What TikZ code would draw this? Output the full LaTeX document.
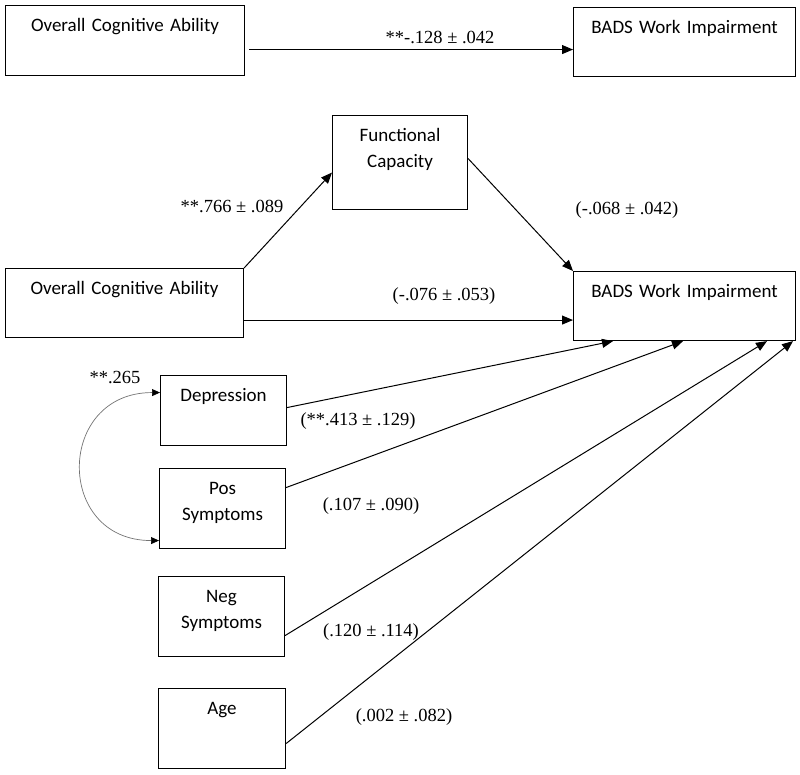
\documentclass[tikz,border=0pt]{standalone}
\usepackage{fontspec}
\setmainfont{Liberation Serif}
\newfontfamily\boxfont{Carlito}
\usetikzlibrary{
	arrows.meta     % Per le punte a triangolo
}

\tikzset{
	varbox/.style={draw, line width=1.1pt, inner sep=0pt, align=center,
		anchor=north west, text height=26pt,
		font=\boxfont\fontsize{19}{26}\selectfont},
	coef/.style={anchor=base, inner sep=0pt, font=\fontsize{18.5}{22}\selectfont},
	effect/.style={line width=1pt, -{Triangle[length=11pt,width=9pt]}},
	corr/.style={draw=black!55, line width=0.7pt,
		{Triangle[length=8pt,width=7pt,color=black]}-{Triangle[length=8pt,width=7pt,color=black]}}
}

\begin{document}
\begin{tikzpicture}[x=1pt, y=-1pt]
		% Area del disegno (in pixel, asse y verso il basso)
		\useasboundingbox (0,0) rectangle (800,774);
		
		% --- Modello totale ---
		\node[varbox, text width=239pt, text depth=44pt] (abil1) at (5,5) {Overall Cognitive Ability};
		\node[varbox, text width=222pt, text depth=43pt] (bads1) at (573,7) {BADS Work Impairment};
		\draw[effect] ([shift={(4,9)}]abil1.east) -- ([shift={(0,9)}]abil1.east -| bads1.west);
		\node[coef] (ctot) at (440,43) {**-.128 ± .042};
		
		% --- Modello con mediatore ---
		\node[varbox, text width=135pt, text depth=68pt] (func) at (332,115) {Functional\\Capacity};
		\node[varbox, text width=238pt, text depth=43pt] (abil2) at (5,268) {Overall Cognitive Ability};
		\node[varbox, text width=222pt, text depth=43pt] (bads2) at (573,271) {BADS Work Impairment};
		
		% Percorsi a, b, c'
		\draw[effect] (abil2.north east) -- ([shift={(0,10)}]func.west);
		\draw[effect] ([shift={(0,-4)}]func.east) -- (bads2.north west);
		\draw[effect] ([shift={(0,17)}]abil2.east) -- ([shift={(0,17)}]abil2.east -| bads2.west);
		\node[coef] (ca) at (232,212) {**.766 ± .089};
		\node[coef] (cb) at (627,214) {(-.068 ± .042)};
		\node[coef] (cc) at (444,300) {(-.076 ± .053)};
		
		% --- Covariate ---
		\node[varbox, text width=126pt, text depth=44pt] (dep) at (160,375) {Depression};
		\node[varbox, text width=126pt, text depth=54pt] (pos) at (159,468) {Pos\\Symptoms};
		\node[varbox, text width=126pt, text depth=54pt] (neg) at (158,576) {Neg\\Symptoms};
		\node[varbox, text width=127pt, text depth=54pt] (age) at (158,688) {Age};
		
		% Frecce verso il lato inferiore di BADS
		\draw[effect] ([shift={(0,-3)}]dep.east) -- ([shift={(40,0)}]bads2.south west);
		\draw[effect] ([shift={(0,-21)}]pos.east) -- ([shift={(110,0)}]bads2.south west);
		\draw[effect] ([shift={(0,19)}]neg.east) -- ([shift={(194,0)}]bads2.south west);
		\draw[effect] ([shift={(0,15)}]age.east) -- ([shift={(220,0)}]bads2.south west);
		\node[coef] (cdep) at (358,425) {(**.413 ± .129)};
		\node[coef] (cpos) at (371,510) {(.107 ± .090)};
		\node[coef] (cneg) at (371,636) {(.120 ± .114)};
		\node[coef] (cage) at (404,721) {(.002 ± .082)};
		
		% Correlazione tra depressione e sintomi positivi
		\draw[corr] ([shift={(0,-18)}]dep.west) to[out=180, in=180, looseness=1.8] ([shift={(0,32)}]pos.west);
		\node[coef] (ccor) at (115,383) {**.265};
	\end{tikzpicture}
\end{document}
